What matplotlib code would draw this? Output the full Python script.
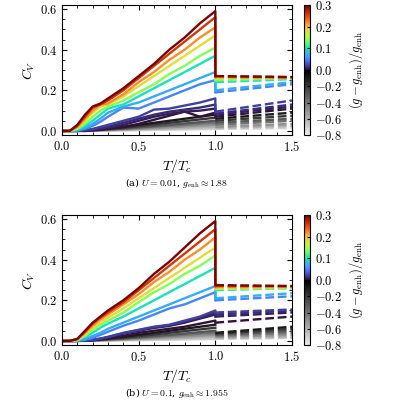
import numpy as np
import matplotlib
matplotlib.use("Agg")
import matplotlib.pyplot as plt
from matplotlib.colors import ListedColormap, TwoSlopeNorm

plt.rcParams['mathtext.fontset'] = 'cm'
plt.rcParams['font.family'] = 'serif'
plt.rcParams['font.serif'] = ['DejaVu Serif']
plt.rcParams['axes.formatter.use_mathtext'] = True

T = [0, 0.05, 0.1, 0.15, 0.2, 0.25, 0.3, 0.4, 0.5, 0.6, 0.7, 0.8, 0.9, 1.0]
T_gray = [0, 0.15, 0.4, 0.7, 1.0]
T_dash = [1.0, 1.5]

g_col = [0.30, 0.26, 0.22, 0.18, 0.14, 0.10, 0.07, 0.05, 0.02, 0.01, 0.005, 0.0]
g_gray = [-0.1, -0.2, -0.3, -0.4, -0.5, -0.6, -0.7]

# panel (a) U = 0.01
cv_a = [
    [0, 0, 0.03, 0.08, 0.12, 0.135, 0.16, 0.21, 0.27, 0.33, 0.40, 0.46, 0.53, 0.59],
    [0, 0, 0.025, 0.07, 0.115, 0.13, 0.15, 0.20, 0.26, 0.32, 0.38, 0.44, 0.50, 0.56],
    [0, 0, 0.02, 0.06, 0.10, 0.13, 0.135, 0.18, 0.24, 0.29, 0.35, 0.40, 0.46, 0.51],
    [0, 0, 0.015, 0.05, 0.09, 0.12, 0.13, 0.17, 0.22, 0.27, 0.32, 0.37, 0.42, 0.47],
    [0, 0, 0.01, 0.035, 0.07, 0.10, 0.12, 0.15, 0.19, 0.23, 0.28, 0.32, 0.37, 0.41],
    [0, 0, 0.005, 0.025, 0.05, 0.08, 0.11, 0.13, 0.17, 0.21, 0.25, 0.29, 0.33, 0.37],
    [0, 0, 0.003, 0.015, 0.035, 0.06, 0.09, 0.12, 0.14, 0.17, 0.20, 0.23, 0.26, 0.29],
    [0, 0, 0.002, 0.01, 0.025, 0.045, 0.07, 0.115, 0.11, 0.14, 0.17, 0.20, 0.23, 0.25],
    [0, 0, 0, 0.005, 0.01, 0.02, 0.03, 0.05, 0.07, 0.105, 0.11, 0.125, 0.14, 0.16],
    [0, 0, 0, 0.003, 0.007, 0.013, 0.02, 0.04, 0.06, 0.08, 0.095, 0.105, 0.115, 0.13],
    [0, 0, 0, 0.002, 0.005, 0.01, 0.015, 0.03, 0.05, 0.07, 0.085, 0.095, 0.10, 0.11],
    [0, 0, 0, 0, 0.003, 0.006, 0.01, 0.02, 0.035, 0.055, 0.075, 0.095, 0.07, 0.09],
]
gray_a = [
    [0, 0.002, 0.02, 0.05, 0.08],
    [0, 0.002, 0.015, 0.04, 0.065],
    [0, 0.001, 0.012, 0.03, 0.05],
    [0, 0.001, 0.01, 0.025, 0.04],
    [0, 0.001, 0.007, 0.018, 0.03],
    [0, 0.0, 0.005, 0.012, 0.02],
    [0, 0.0, 0.003, 0.006, 0.01],
]
dash_a = [
    [0.27, 0.265], [0.27, 0.265], [0.265, 0.26], [0.26, 0.265], [0.25, 0.26], [0.24, 0.255],
    [0.20, 0.24], [0.19, 0.23], [0.095, 0.15], [0.085, 0.13], [0.08, 0.12], [0.07, 0.11],
]
dash_gray_a = [[0.06, 0.09], [0.05, 0.075], [0.04, 0.06], [0.03, 0.05], [0.02, 0.035], [0.015, 0.025], [0.01, 0.015]]

# panel (b) U = 0.1
cv_b = [
    [0, 0, 0.01, 0.05, 0.09, 0.12, 0.15, 0.20, 0.26, 0.33, 0.39, 0.46, 0.53, 0.59],
    [0, 0, 0.01, 0.045, 0.085, 0.115, 0.14, 0.19, 0.25, 0.31, 0.37, 0.43, 0.49, 0.55],
    [0, 0, 0.008, 0.04, 0.075, 0.105, 0.13, 0.18, 0.23, 0.29, 0.34, 0.40, 0.45, 0.51],
    [0, 0, 0.006, 0.03, 0.065, 0.09, 0.115, 0.16, 0.21, 0.26, 0.31, 0.36, 0.41, 0.46],
    [0, 0, 0.004, 0.025, 0.055, 0.08, 0.10, 0.14, 0.19, 0.24, 0.28, 0.33, 0.37, 0.42],
    [0, 0, 0.003, 0.02, 0.04, 0.065, 0.085, 0.12, 0.16, 0.20, 0.24, 0.28, 0.32, 0.36],
    [0, 0, 0.002, 0.01, 0.025, 0.04, 0.06, 0.09, 0.12, 0.15, 0.18, 0.21, 0.24, 0.27],
    [0, 0, 0.001, 0.005, 0.015, 0.03, 0.045, 0.075, 0.10, 0.13, 0.16, 0.18, 0.21, 0.24],
    [0, 0, 0, 0.002, 0.005, 0.012, 0.02, 0.04, 0.055, 0.07, 0.08, 0.10, 0.12, 0.15],
    [0, 0, 0, 0.002, 0.005, 0.011, 0.019, 0.038, 0.053, 0.067, 0.077, 0.095, 0.115, 0.14],
    [0, 0, 0, 0.002, 0.004, 0.01, 0.018, 0.036, 0.05, 0.064, 0.074, 0.09, 0.11, 0.13],
    [0, 0, 0, 0.001, 0.003, 0.007, 0.012, 0.025, 0.04, 0.05, 0.06, 0.07, 0.085, 0.10],
]
gray_b = [
    [0, 0.002, 0.02, 0.05, 0.08],
    [0, 0.002, 0.015, 0.04, 0.065],
    [0, 0.001, 0.012, 0.03, 0.05],
    [0, 0.001, 0.01, 0.025, 0.04],
    [0, 0.001, 0.007, 0.018, 0.03],
    [0, 0.0, 0.005, 0.012, 0.02],
    [0, 0.0, 0.003, 0.006, 0.01],
]
dash_b = [
    [0.275, 0.27], [0.27, 0.27], [0.265, 0.265], [0.26, 0.265], [0.255, 0.26], [0.25, 0.26],
    [0.21, 0.235], [0.20, 0.22], [0.14, 0.155], [0.13, 0.15], [0.12, 0.14], [0.09, 0.12],
]
dash_gray_b = [[0.04, 0.07], [0.035, 0.06], [0.03, 0.05], [0.025, 0.04], [0.02, 0.03], [0.015, 0.02], [0.01, 0.015]]

# colormap: gray for negative, turbo for positive
neg = plt.cm.gray(np.linspace(0.92, 0.0, 128))
pos = plt.cm.turbo(np.linspace(0.0, 1.0, 128))
cmap = ListedColormap(np.vstack([neg, pos]))
norm = TwoSlopeNorm(vmin=-0.8, vcenter=0.0, vmax=0.3)

fig = plt.figure(figsize=(4, 4), dpi=100)
ax_a = fig.add_axes([0.155, 0.6625, 0.575, 0.325])
ax_b = fig.add_axes([0.155, 0.1375, 0.575, 0.325])

LW = 1.7


def draw(ax, cv, gray, dash, dash_gray, caption, cap_y):
    for g, ys in reversed(list(zip(g_gray, gray))):
        ax.plot(T_gray, ys, color=cmap(norm(g)), lw=LW)
    for g, ys in reversed(list(zip(g_gray, dash_gray))):
        ax.plot(T_dash, ys, color=cmap(norm(g)), lw=LW, ls='--')
    for g, ys, d in reversed(list(zip(g_col, cv, dash))):
        c = cmap(norm(g))
        ax.plot(T + [1.0], ys + [d[0]], color=c, lw=LW)
        ax.plot(T_dash, d, color=c, lw=LW, ls='--')
    ax.set_xlim(0, 1.5)
    ax.set_ylim(-0.02, 0.62)
    ax.set_xticks([0, 0.5, 1.0, 1.5])
    ax.set_yticks([0, 0.2, 0.4, 0.6])
    ax.xaxis.set_major_formatter(plt.FuncFormatter(lambda v, p: f"${v:.1f}$"))
    ax.yaxis.set_major_formatter(plt.FuncFormatter(lambda v, p: f"${v:.1f}$"))
    ax.minorticks_on()
    ax.tick_params(which='both', direction='in', top=True, right=True, labelsize=9)
    ax.tick_params(which='major', length=3.5)
    ax.tick_params(which='minor', length=2)
    ax.set_xlabel(r'$T/T_c$', fontsize=10, labelpad=2)
    ax.set_ylabel(r'$C_V$', fontsize=10, labelpad=2)
    fig.text(0.4425, cap_y, caption, ha='center', va='center', fontsize=7)


draw(ax_a, cv_a, gray_a, dash_a, dash_gray_a, r'(a) $U = 0.01$, $g_{\rm enh} \approx 1.88$', 0.5425)
draw(ax_b, cv_b, gray_b, dash_b, dash_gray_b, r'(b) $U = 0.1$, $g_{\rm enh} \approx 1.955$', 0.0175)

sm = plt.cm.ScalarMappable(norm=norm, cmap=cmap)
cb_ticks = [-0.8, -0.6, -0.4, -0.2, 0.0, 0.1, 0.2, 0.3]
for ax in (ax_a, ax_b):
    pos_ax = ax.get_position()
    cax = fig.add_axes([0.76, pos_ax.y0, 0.015, pos_ax.height])
    cb = fig.colorbar(sm, cax=cax, ticks=cb_ticks)
    cb.ax.set_yticklabels([f"${t:.1f}$" for t in cb_ticks], fontsize=9)
    cb.ax.tick_params(direction='in', length=2)
    cb.set_label(r'$(g - g_{\rm enh})/g_{\rm enh}$', fontsize=9, labelpad=4)

fig.savefig('out.png', dpi=100)
